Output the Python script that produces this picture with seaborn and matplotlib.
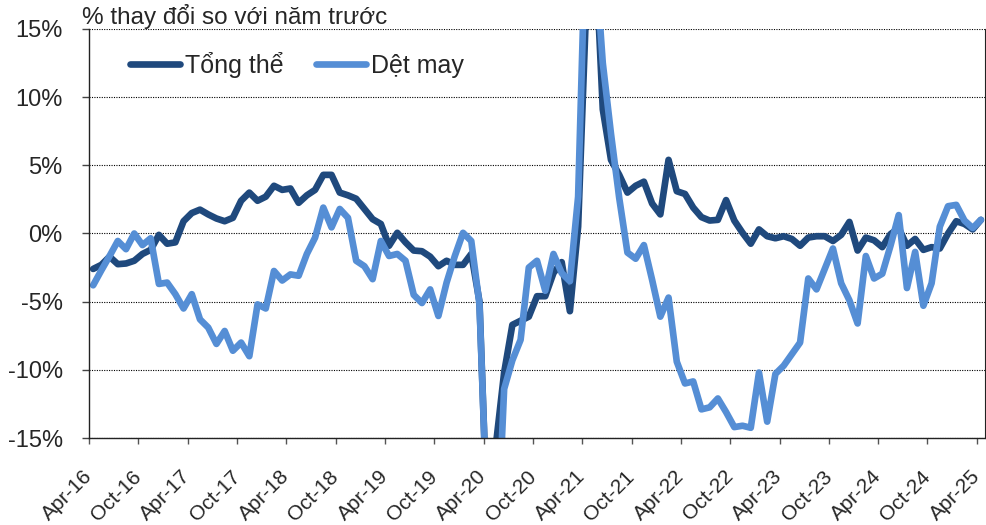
import matplotlib
matplotlib.use("Agg")
import matplotlib.pyplot as plt
import numpy as np
import pandas as pd
import seaborn as sns
from matplotlib.ticker import FuncFormatter

# Year-on-year change (%), monthly Apr-16 .. Apr-25 (109 months)
# values outside +/-15 are cut off in the chart, these are rough guesses
tong_the = [
    -2.6, -2.3, -1.7, -2.25, -2.2, -2.0, -1.5, -1.2, -0.1, -0.75, -0.65, 0.9,
    1.5, 1.75, 1.4, 1.1, 0.9, 1.15, 2.4, 3.0, 2.4, 2.7, 3.5, 3.2,
    3.3, 2.25, 2.8, 3.2, 4.3, 4.3, 3.0, 2.8, 2.55, 1.8, 1.05, 0.7,
    -0.9, 0.05, -0.65, -1.25, -1.3, -1.7, -2.4, -2.0, -2.3, -2.3, -1.5, -5.0,
    -22.0, -15.5, -10.2, -6.7, -6.4, -6.1, -4.6, -4.6, -2.9, -2.1, -5.7, 0.5,
    17.0, 22.0, 9.1, 5.4, 4.3, 3.0, 3.5, 3.8, 2.2, 1.4, 5.4, 3.1,
    2.9, 1.9, 1.2, 0.95, 1.0, 2.45, 0.95, 0.05, -0.75, 0.3, -0.2, -0.35,
    -0.2, -0.4, -0.9, -0.3, -0.2, -0.2, -0.55, -0.1, 0.85, -1.25, -0.3, -0.5,
    -1.0, -0.05, 0.4, -0.9, -0.4, -1.2, -1.0, -1.1, 0.0, 0.9, 0.7, 0.3,
    1.0,
]
det_may = [
    -3.8, -2.7, -1.65, -0.55, -1.15, 0.0, -0.85, -0.35, -3.7, -3.6, -4.45, -5.5,
    -4.45, -6.3, -6.9, -8.1, -7.15, -8.6, -8.0, -9.0, -5.2, -5.5, -2.75, -3.45,
    -3.0, -3.1, -1.5, -0.3, 1.9, 0.45, 1.8, 1.15, -2.0, -2.4, -3.35, -0.55,
    -1.65, -1.5, -2.0, -4.5, -5.1, -4.1, -6.05, -3.6, -1.65, 0.05, -0.55, -5.2,
    -22.0, -25.0, -11.4, -9.3, -7.8, -2.5, -2.0, -4.2, -1.5, -2.9, -3.5, 2.7,
    24.0, 21.0, 12.5, 7.3, 2.6, -1.4, -1.85, -0.85, -3.4, -6.1, -4.7, -9.4,
    -11.0, -10.85, -12.9, -12.75, -12.1, -13.1, -14.2, -14.1, -14.25, -10.2, -13.8, -10.3,
    -9.7, -8.85, -8.0, -3.3, -4.1, -2.6, -1.1, -3.65, -4.9, -6.6, -1.65, -3.3,
    -2.95, -0.9, 1.35, -4.0, -1.35, -5.3, -3.65, 0.5, 2.0, 2.1, 0.95, 0.4,
    1.0,
]
tick_labels = ["Apr-16", "Oct-16", "Apr-17", "Oct-17", "Apr-18", "Oct-18",
               "Apr-19", "Oct-19", "Apr-20", "Oct-20", "Apr-21", "Oct-21",
               "Apr-22", "Oct-22", "Apr-23", "Oct-23", "Apr-24", "Oct-24",
               "Apr-25"]
series_names = ["Tổng thể", "Dệt may"]
colors = {"Tổng thể": "#1F497D", "Dệt may": "#558ED5"}

n = len(tong_the)
pos = np.arange(n) + 0.5  # points sit in the middle of each month
df = pd.DataFrame({"pos": np.concatenate([pos, pos]),
                   "val": tong_the + det_may,
                   "series": [series_names[0]] * n + [series_names[1]] * n})

sns.set_style("white")
plt.rcParams["font.family"] = ["Liberation Sans", "DejaVu Sans"]

fig = plt.figure(figsize=(9.87, 5.25), dpi=100)
ax = fig.add_axes([0.0902, 0.1657, 0.9078, 0.7791])

sns.lineplot(data=df, x="pos", y="val", hue="series", hue_order=series_names,
             palette=colors, linewidth=4.8, legend=False, ax=ax,
             solid_capstyle="round", solid_joinstyle="round")

ax.set_xlim(0, n)
ax.set_ylim(-15, 15)
ax.set_yticks(range(-15, 16, 5))
ax.yaxis.set_major_formatter(FuncFormatter(lambda v, p: f"{v:.0f}%"))
ax.set_xticks(np.arange(0, n, 6))
ax.set_xticklabels(tick_labels, rotation=45, ha="right", va="center",
                   rotation_mode="anchor")
ax.set_xlabel("")
ax.set_ylabel("")

ax.yaxis.grid(True, color="black", linestyle=(0, (1, 1.2)), linewidth=0.8)
ax.set_axisbelow(True)
ax.spines["top"].set_visible(False)
for s in ["left", "bottom", "right"]:
    ax.spines[s].set_color("#222222")
    ax.spines[s].set_linewidth(1.0)
ax.spines["right"].set_linewidth(0.8)

ax.tick_params(axis="y", direction="out", length=5, width=1, color="#444444",
               pad=14, labelsize=17, left=True)
ax.tick_params(axis="x", direction="out", length=4.5, width=1, color="#555555",
               pad=21, labelsize=15, bottom=True)

ax.legend(handles=ax.lines[:2], labels=series_names, loc="center left",
          bbox_to_anchor=(0.0458, 0.912), ncol=2, frameon=False,
          fontsize=18, handlelength=2.0, handletextpad=0.2,
          columnspacing=1.3, borderpad=0, borderaxespad=0)

fig.text(82 / 987, 1 - 24 / 525, "% thay đổi so với năm trước",
         fontsize=17.5, va="baseline", ha="left")

fig.savefig("out.png", dpi=100)
